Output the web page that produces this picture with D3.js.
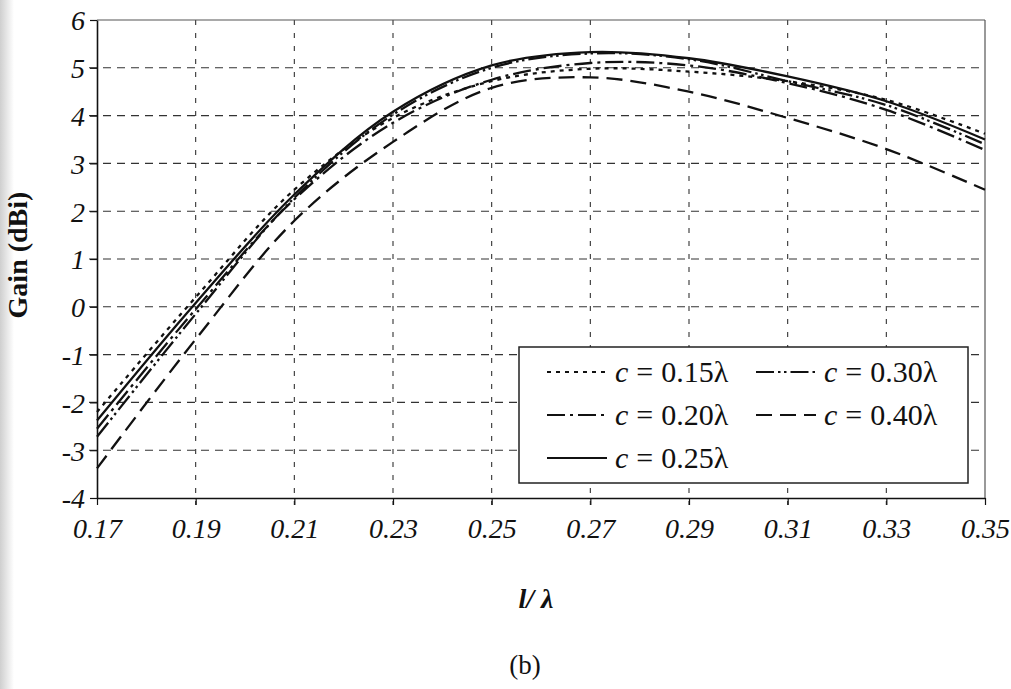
<!DOCTYPE html>
<html>
<head>
<meta charset="utf-8">
<script src="https://cdn.jsdelivr.net/npm/d3@7"></script>
<style>
  body { margin: 0; background: #fff; }
  svg { display: block; }
  text { font-family: "Liberation Serif", "Times New Roman", serif; fill: #111; }
</style>
</head>
<body>
<svg width="1011" height="689"></svg>
<script>
// l/lambda values where gain was read
const lOverLambda = [0.17, 0.19, 0.21, 0.23, 0.25, 0.27, 0.29, 0.31, 0.33, 0.35];
const gain015 = [-2.2, 0.2, 2.45, 3.95, 4.72, 4.98, 4.92, 4.72, 4.33, 3.62];
const gain020 = [-2.55, -0.05, 2.25, 3.85, 4.75, 5.1, 5.05, 4.68, 4.12, 3.28];
const gain025 = [-2.38, 0.08, 2.35, 4.08, 5.05, 5.33, 5.2, 4.82, 4.3, 3.5];
const gain030 = [-2.72, -0.15, 2.28, 4.02, 5.0, 5.3, 5.18, 4.72, 4.22, 3.4];
const gain040 = [-3.38, -0.68, 1.8, 3.45, 4.58, 4.8, 4.5, 3.95, 3.3, 2.45];

const xTicks = [0.17, 0.19, 0.21, 0.23, 0.25, 0.27, 0.29, 0.31, 0.33, 0.35];
const yTicks = [-4, -3, -2, -1, 0, 1, 2, 3, 4, 5, 6];

const seriesNames = ["0.15", "0.30", "0.20", "0.40", "0.25"];

const svg = d3.select("svg");

// scan shadow on the left edge
const grad = svg.append("defs").append("linearGradient").attr("id", "shade");
grad.append("stop").attr("offset", "0%").attr("stop-color", "#cfcfcf");
grad.append("stop").attr("offset", "100%").attr("stop-color", "#fff");
svg.append("rect").attr("x", 0).attr("y", 0).attr("width", 14).attr("height", 689)
  .attr("fill", "url(#shade)");

const x = d3.scaleLinear().domain([0.17, 0.35]).range([97, 985]);
const y = d3.scaleLinear().domain([-4, 6]).range([498, 20]);

// line styles
const styles = {
  "0.15": { dash: "4,5", data: gain015 },
  "0.20": { dash: "18,5,3,5", data: gain020 },
  "0.25": { dash: null, data: gain025 },
  "0.30": { dash: "18,4,2.5,3.5,2.5,4", data: gain030 },
  "0.40": { dash: "16,8", data: gain040 },
};

// grid
svg.append("g")
  .selectAll("line")
  .data(yTicks.slice(1, -1))
  .enter()
  .append("line")
  .attr("x1", 89).attr("x2", 985)
  .attr("y1", d => y(d)).attr("y2", d => y(d))
  .attr("stroke", "#333").attr("stroke-width", 1.1)
  .attr("stroke-dasharray", "8,6");

svg.append("g")
  .selectAll("line")
  .data(xTicks.slice(1, -1))
  .enter()
  .append("line")
  .attr("x1", d => x(d)).attr("x2", d => x(d))
  .attr("y1", 20).attr("y2", 505)
  .attr("stroke", "#333").attr("stroke-width", 1.1)
  .attr("stroke-dasharray", "5,8");

// frame
svg.append("line").attr("x1", 97).attr("x2", 985).attr("y1", 20).attr("y2", 20)
  .attr("stroke", "#555").attr("stroke-width", 1.2);
svg.append("line").attr("x1", 985).attr("x2", 985).attr("y1", 20).attr("y2", 498)
  .attr("stroke", "#555").attr("stroke-width", 1.2);

// axes
const yAxis = svg.append("g")
  .attr("transform", "translate(97,0)")
  .call(d3.axisLeft(y).tickValues(yTicks).tickSize(7).tickSizeOuter(0)
    .tickFormat(d => String(d)));
const xAxis = svg.append("g")
  .attr("transform", "translate(0,498)")
  .call(d3.axisBottom(x).tickValues(xTicks).tickSize(7).tickSizeOuter(0)
    .tickFormat(d3.format(".2f")));

[yAxis, xAxis].forEach(a => {
  a.select(".domain").attr("stroke", "#111").attr("stroke-width", 1.6);
  a.selectAll(".tick line").attr("stroke", "#111").attr("stroke-width", 1.2);
  a.selectAll("text")
    .style("font-family", "'Liberation Serif', serif")
    .style("font-style", "italic")
    .style("font-size", "28px")
    .attr("fill", "#222");
});
yAxis.selectAll("text").attr("x", -12).attr("dy", "0.35em");
xAxis.selectAll("text").attr("y", 20);

// curves
const line = d3.line()
  .x((d, i) => x(lOverLambda[i]))
  .y(d => y(d))
  .curve(d3.curveCatmullRom);

svg.append("g")
  .selectAll("path")
  .data(["0.40", "0.15", "0.20", "0.30", "0.25"])
  .enter()
  .append("path")
  .attr("d", d => line(styles[d].data))
  .attr("fill", "none")
  .attr("stroke", "#111")
  .attr("stroke-width", 2.3)
  .attr("stroke-dasharray", d => styles[d].dash);

// legend
const legend = svg.append("g");
legend.append("rect")
  .attr("x", 519).attr("y", 347).attr("width", 449).attr("height", 136)
  .attr("fill", "#fff").attr("stroke", "#222").attr("stroke-width", 1.5);

const legendPos = [
  [547, 372], [756, 372],
  [547, 415], [756, 415],
  [547, 458],
];

seriesNames.forEach((name, i) => {
  const [lx, ly] = legendPos[i];
  legend.append("line")
    .attr("x1", lx).attr("x2", lx + 60)
    .attr("y1", ly).attr("y2", ly)
    .attr("stroke", "#111").attr("stroke-width", 2)
    .attr("stroke-dasharray", styles[name].dash);
  const t = legend.append("text")
    .attr("x", lx + 68).attr("y", ly + 10)
    .style("font-size", "30px");
  t.append("tspan").style("font-style", "italic").text("c");
  t.append("tspan").attr("dx", 8).text("=");
  t.append("tspan").attr("dx", 8).text(name + "λ");
});

// axis titles
svg.append("text")
  .attr("transform", "translate(27,255) rotate(-90)")
  .attr("text-anchor", "middle")
  .style("font-size", "28px")
  .style("font-weight", "bold")
  .text("Gain (dBi)");

svg.append("text")
  .attr("x", 536).attr("y", 608)
  .attr("text-anchor", "middle")
  .style("font-size", "28px")
  .style("font-weight", "bold")
  .style("font-style", "italic")
  .text("l/ λ");

svg.append("text")
  .attr("x", 525).attr("y", 674)
  .attr("text-anchor", "middle")
  .style("font-size", "27px")
  .text("(b)");
</script>
</body>
</html>
